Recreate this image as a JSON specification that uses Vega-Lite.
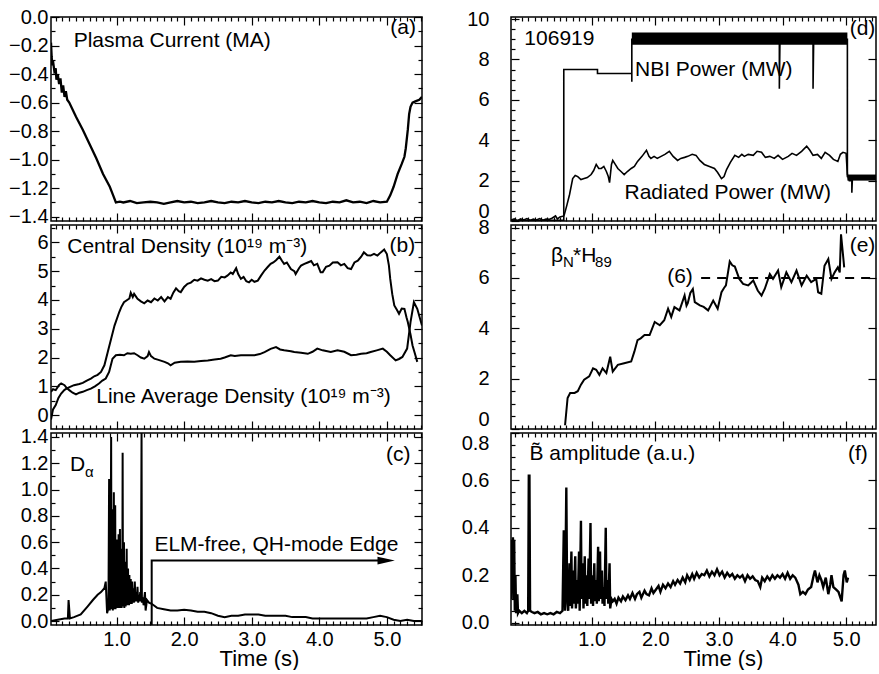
{
"$schema":"https://vega.github.io/schema/vega-lite/v6.json",
"padding":{"left":7,"top":6,"right":0,"bottom":0},
"background":"white",
"config":{
 "font":"Liberation Sans",
 "view":{"stroke":"black","strokeWidth":1.5},
 "axis":{"grid":false,"domain":false,"ticks":true,"tickColor":"black","tickWidth":1.2,"labelColor":"black","labelFont":"Liberation Sans","labelFontSize":20,"labelFlush":false,"labelOverlap":false,"titleFont":"Liberation Sans","titleFontSize":22,"titleFontWeight":"normal","titleColor":"black"},
 "line":{"color":"black","strokeWidth":2},
 "area":{"color":"black"},
 "text":{"font":"Liberation Sans","color":"black","fontSize":21}
},
"datasets":{
"ip":[{"t":0.03,"v":-0.18},{"t":0.04,"v":-0.28},{"t":0.05,"v":-0.34},{"t":0.06,"v":-0.31},{"t":0.08,"v":-0.38},{"t":0.1,"v":-0.36},{"t":0.11,"v":-0.44},{"t":0.13,"v":-0.4},{"t":0.15,"v":-0.47},{"t":0.17,"v":-0.43},{"t":0.19,"v":-0.53},{"t":0.21,"v":-0.48},{"t":0.23,"v":-0.56},{"t":0.25,"v":-0.52},{"t":0.27,"v":-0.58},{"t":0.3,"v":-0.6},{"t":0.4,"v":-0.7},{"t":0.5,"v":-0.79},{"t":0.6,"v":-0.89},{"t":0.7,"v":-0.99},{"t":0.8,"v":-1.1},{"t":0.9,"v":-1.19},{"t":0.95,"v":-1.25},{"t":0.99,"v":-1.3},{"t":1.05,"v":-1.295},{"t":1.1,"v":-1.3},{"t":1.2,"v":-1.29},{"t":1.3,"v":-1.305},{"t":1.4,"v":-1.3},{"t":1.5,"v":-1.295},{"t":1.6,"v":-1.3},{"t":1.7,"v":-1.31},{"t":1.8,"v":-1.3},{"t":1.9,"v":-1.29},{"t":2.0,"v":-1.3},{"t":2.1,"v":-1.295},{"t":2.2,"v":-1.305},{"t":2.3,"v":-1.3},{"t":2.4,"v":-1.29},{"t":2.5,"v":-1.3},{"t":2.6,"v":-1.305},{"t":2.7,"v":-1.295},{"t":2.8,"v":-1.3},{"t":2.9,"v":-1.29},{"t":3.0,"v":-1.3},{"t":3.1,"v":-1.305},{"t":3.2,"v":-1.295},{"t":3.3,"v":-1.3},{"t":3.4,"v":-1.29},{"t":3.5,"v":-1.3},{"t":3.6,"v":-1.305},{"t":3.7,"v":-1.295},{"t":3.8,"v":-1.3},{"t":3.9,"v":-1.29},{"t":4.0,"v":-1.3},{"t":4.1,"v":-1.305},{"t":4.2,"v":-1.295},{"t":4.3,"v":-1.3},{"t":4.4,"v":-1.285},{"t":4.5,"v":-1.3},{"t":4.6,"v":-1.295},{"t":4.7,"v":-1.305},{"t":4.8,"v":-1.29},{"t":4.9,"v":-1.3},{"t":5.0,"v":-1.295},{"t":5.05,"v":-1.25},{"t":5.1,"v":-1.19},{"t":5.16,"v":-1.1},{"t":5.22,"v":-1.03},{"t":5.26,"v":-0.98},{"t":5.28,"v":-0.92},{"t":5.31,"v":-0.79},{"t":5.33,"v":-0.68},{"t":5.35,"v":-0.63},{"t":5.38,"v":-0.6},{"t":5.43,"v":-0.59},{"t":5.48,"v":-0.58},{"t":5.52,"v":-0.56}],
"dens":[{"s":"c","t":0.03,"v":-0.15},{"s":"c","t":0.06,"v":0.2},{"s":"c","t":0.1,"v":0.35},{"s":"c","t":0.14,"v":0.6},{"s":"c","t":0.18,"v":0.75},{"s":"c","t":0.23,"v":0.88},{"s":"c","t":0.28,"v":0.95},{"s":"c","t":0.37,"v":1.04},{"s":"c","t":0.45,"v":1.08},{"s":"c","t":0.5,"v":1.12},{"s":"c","t":0.56,"v":1.2},{"s":"c","t":0.62,"v":1.27},{"s":"c","t":0.67,"v":1.35},{"s":"c","t":0.72,"v":1.4},{"s":"c","t":0.77,"v":1.5},{"s":"c","t":0.82,"v":1.73},{"s":"c","t":0.87,"v":2.19},{"s":"c","t":0.92,"v":2.65},{"s":"c","t":0.97,"v":3.11},{"s":"c","t":1.04,"v":3.58},{"s":"c","t":1.07,"v":3.75},{"s":"c","t":1.11,"v":3.92},{"s":"c","t":1.19,"v":4.05},{"s":"c","t":1.21,"v":4.25},{"s":"c","t":1.24,"v":4.1},{"s":"c","t":1.26,"v":4.21},{"s":"c","t":1.31,"v":4.04},{"s":"c","t":1.36,"v":3.95},{"s":"c","t":1.41,"v":3.88},{"s":"c","t":1.46,"v":3.98},{"s":"c","t":1.51,"v":3.92},{"s":"c","t":1.56,"v":4.05},{"s":"c","t":1.61,"v":3.98},{"s":"c","t":1.66,"v":4.1},{"s":"c","t":1.71,"v":3.95},{"s":"c","t":1.76,"v":4.1},{"s":"c","t":1.8,"v":4.04},{"s":"c","t":1.84,"v":4.25},{"s":"c","t":1.88,"v":4.4},{"s":"c","t":1.92,"v":4.3},{"s":"c","t":1.95,"v":4.27},{"s":"c","t":2.0,"v":4.45},{"s":"c","t":2.05,"v":4.56},{"s":"c","t":2.1,"v":4.6},{"s":"c","t":2.15,"v":4.7},{"s":"c","t":2.2,"v":4.67},{"s":"c","t":2.25,"v":4.75},{"s":"c","t":2.3,"v":4.7},{"s":"c","t":2.35,"v":4.67},{"s":"c","t":2.4,"v":4.72},{"s":"c","t":2.45,"v":4.65},{"s":"c","t":2.5,"v":4.67},{"s":"c","t":2.55,"v":4.8},{"s":"c","t":2.6,"v":4.78},{"s":"c","t":2.64,"v":4.84},{"s":"c","t":2.69,"v":4.95},{"s":"c","t":2.72,"v":4.9},{"s":"c","t":2.77,"v":5.1},{"s":"c","t":2.8,"v":4.9},{"s":"c","t":2.84,"v":4.73},{"s":"c","t":2.88,"v":4.8},{"s":"c","t":2.92,"v":4.65},{"s":"c","t":2.96,"v":4.61},{"s":"c","t":3.0,"v":4.7},{"s":"c","t":3.04,"v":4.63},{"s":"c","t":3.09,"v":4.67},{"s":"c","t":3.14,"v":4.85},{"s":"c","t":3.19,"v":5.02},{"s":"c","t":3.24,"v":5.15},{"s":"c","t":3.28,"v":5.25},{"s":"c","t":3.32,"v":5.3},{"s":"c","t":3.36,"v":5.38},{"s":"c","t":3.41,"v":5.5},{"s":"c","t":3.45,"v":5.35},{"s":"c","t":3.48,"v":5.25},{"s":"c","t":3.52,"v":5.3},{"s":"c","t":3.58,"v":5.07},{"s":"c","t":3.63,"v":5.0},{"s":"c","t":3.65,"v":4.9},{"s":"c","t":3.7,"v":5.1},{"s":"c","t":3.73,"v":5.19},{"s":"c","t":3.78,"v":5.25},{"s":"c","t":3.83,"v":5.3},{"s":"c","t":3.88,"v":5.35},{"s":"c","t":3.92,"v":5.2},{"s":"c","t":3.97,"v":5.25},{"s":"c","t":4.02,"v":4.96},{"s":"c","t":4.05,"v":4.96},{"s":"c","t":4.1,"v":5.15},{"s":"c","t":4.15,"v":5.19},{"s":"c","t":4.2,"v":5.3},{"s":"c","t":4.27,"v":5.31},{"s":"c","t":4.32,"v":5.2},{"s":"c","t":4.37,"v":5.25},{"s":"c","t":4.42,"v":5.1},{"s":"c","t":4.47,"v":5.07},{"s":"c","t":4.52,"v":5.3},{"s":"c","t":4.57,"v":5.36},{"s":"c","t":4.62,"v":5.5},{"s":"c","t":4.66,"v":5.65},{"s":"c","t":4.71,"v":5.55},{"s":"c","t":4.76,"v":5.54},{"s":"c","t":4.81,"v":5.6},{"s":"c","t":4.86,"v":5.54},{"s":"c","t":4.91,"v":5.65},{"s":"c","t":4.96,"v":5.75},{"s":"c","t":5.0,"v":5.59},{"s":"c","t":5.03,"v":5.2},{"s":"c","t":5.05,"v":4.73},{"s":"c","t":5.08,"v":4.2},{"s":"c","t":5.11,"v":3.81},{"s":"c","t":5.15,"v":3.65},{"s":"c","t":5.18,"v":3.52},{"s":"c","t":5.22,"v":3.7},{"s":"c","t":5.26,"v":3.69},{"s":"c","t":5.29,"v":3.4},{"s":"c","t":5.31,"v":3.23},{"s":"c","t":5.35,"v":2.8},{"s":"c","t":5.38,"v":2.42},{"s":"c","t":5.42,"v":2.1},{"s":"c","t":5.45,"v":1.85},
{"s":"l","t":0.03,"v":0.81},{"s":"l","t":0.06,"v":0.9},{"s":"l","t":0.1,"v":0.87},{"s":"l","t":0.15,"v":1.05},{"s":"l","t":0.18,"v":1.1},{"s":"l","t":0.23,"v":1.04},{"s":"l","t":0.26,"v":0.95},{"s":"l","t":0.3,"v":0.87},{"s":"l","t":0.35,"v":0.78},{"s":"l","t":0.4,"v":0.72},{"s":"l","t":0.45,"v":0.78},{"s":"l","t":0.5,"v":0.81},{"s":"l","t":0.56,"v":0.87},{"s":"l","t":0.62,"v":0.92},{"s":"l","t":0.68,"v":1.0},{"s":"l","t":0.74,"v":1.1},{"s":"l","t":0.79,"v":1.2},{"s":"l","t":0.84,"v":1.27},{"s":"l","t":0.89,"v":1.5},{"s":"l","t":0.94,"v":1.96},{"s":"l","t":0.99,"v":2.08},{"s":"l","t":1.05,"v":2.1},{"s":"l","t":1.11,"v":2.08},{"s":"l","t":1.16,"v":2.15},{"s":"l","t":1.21,"v":2.13},{"s":"l","t":1.26,"v":2.15},{"s":"l","t":1.31,"v":2.08},{"s":"l","t":1.36,"v":2.0},{"s":"l","t":1.41,"v":1.96},{"s":"l","t":1.46,"v":2.05},{"s":"l","t":1.48,"v":2.19},{"s":"l","t":1.51,"v":2.05},{"s":"l","t":1.56,"v":1.96},{"s":"l","t":1.62,"v":1.92},{"s":"l","t":1.71,"v":1.85},{"s":"l","t":1.76,"v":1.8},{"s":"l","t":1.8,"v":1.73},{"s":"l","t":1.86,"v":1.82},{"s":"l","t":1.95,"v":1.85},{"s":"l","t":2.05,"v":1.86},{"s":"l","t":2.15,"v":1.85},{"s":"l","t":2.25,"v":1.88},{"s":"l","t":2.35,"v":1.9},{"s":"l","t":2.45,"v":1.93},{"s":"l","t":2.54,"v":1.96},{"s":"l","t":2.6,"v":2.0},{"s":"l","t":2.69,"v":2.08},{"s":"l","t":2.75,"v":2.05},{"s":"l","t":2.84,"v":2.08},{"s":"l","t":2.95,"v":2.08},{"s":"l","t":3.04,"v":2.08},{"s":"l","t":3.12,"v":2.12},{"s":"l","t":3.19,"v":2.19},{"s":"l","t":3.28,"v":2.3},{"s":"l","t":3.36,"v":2.36},{"s":"l","t":3.42,"v":2.28},{"s":"l","t":3.48,"v":2.25},{"s":"l","t":3.58,"v":2.22},{"s":"l","t":3.63,"v":2.19},{"s":"l","t":3.73,"v":2.17},{"s":"l","t":3.83,"v":2.13},{"s":"l","t":3.9,"v":2.2},{"s":"l","t":3.97,"v":2.31},{"s":"l","t":4.05,"v":2.25},{"s":"l","t":4.17,"v":2.19},{"s":"l","t":4.27,"v":2.25},{"s":"l","t":4.37,"v":2.2},{"s":"l","t":4.47,"v":2.08},{"s":"l","t":4.55,"v":2.1},{"s":"l","t":4.62,"v":2.13},{"s":"l","t":4.7,"v":2.15},{"s":"l","t":4.76,"v":2.19},{"s":"l","t":4.85,"v":2.25},{"s":"l","t":4.94,"v":2.31},{"s":"l","t":5.0,"v":2.2},{"s":"l","t":5.05,"v":2.08},{"s":"l","t":5.13,"v":1.9},{"s":"l","t":5.18,"v":1.95},{"s":"l","t":5.23,"v":2.02},{"s":"l","t":5.3,"v":2.31},{"s":"l","t":5.35,"v":3.23},{"s":"l","t":5.4,"v":3.92},{"s":"l","t":5.45,"v":3.69},{"s":"l","t":5.52,"v":3.11}],
"dal":[{"t":0.03,"v":0.0},{"t":0.13,"v":0.01},{"t":0.23,"v":0.02},{"t":0.28,"v":0.02},{"t":0.29,"v":0.16},{"t":0.31,"v":0.02},{"t":0.37,"v":0.03},{"t":0.47,"v":0.05},{"t":0.57,"v":0.11},{"t":0.65,"v":0.16},{"t":0.72,"v":0.2},{"t":0.77,"v":0.22},{"t":0.82,"v":0.25},{"t":0.84,"v":0.3},{"t":0.86,"v":0.06},{"t":0.88,"v":0.1},{"t":0.89,"v":1.08},{"t":0.9,"v":0.08},{"t":0.905,"v":0.9},{"t":0.91,"v":0.1},{"t":0.92,"v":1.4},{"t":0.925,"v":0.09},{"t":0.93,"v":0.6},{"t":0.935,"v":0.1},{"t":0.94,"v":0.85},{"t":0.945,"v":0.08},{"t":0.95,"v":0.7},{"t":0.955,"v":0.1},{"t":0.96,"v":0.98},{"t":0.965,"v":0.09},{"t":0.97,"v":0.5},{"t":0.975,"v":0.1},{"t":0.98,"v":0.88},{"t":0.985,"v":0.09},{"t":0.99,"v":0.45},{"t":0.995,"v":0.11},{"t":1.0,"v":0.62},{"t":1.005,"v":0.1},{"t":1.01,"v":0.5},{"t":1.015,"v":0.12},{"t":1.02,"v":0.4},{"t":1.025,"v":0.1},{"t":1.03,"v":0.66},{"t":1.035,"v":0.11},{"t":1.04,"v":0.55},{"t":1.045,"v":0.1},{"t":1.05,"v":0.7},{"t":1.055,"v":0.12},{"t":1.06,"v":0.4},{"t":1.065,"v":0.11},{"t":1.07,"v":0.55},{"t":1.075,"v":0.1},{"t":1.08,"v":0.35},{"t":1.085,"v":0.12},{"t":1.09,"v":1.28},{"t":1.095,"v":0.11},{"t":1.1,"v":0.5},{"t":1.105,"v":0.12},{"t":1.11,"v":0.6},{"t":1.115,"v":0.1},{"t":1.12,"v":0.4},{"t":1.125,"v":0.12},{"t":1.13,"v":0.45},{"t":1.135,"v":0.11},{"t":1.14,"v":0.3},{"t":1.145,"v":0.12},{"t":1.15,"v":0.55},{"t":1.155,"v":0.13},{"t":1.16,"v":0.35},{"t":1.165,"v":0.12},{"t":1.17,"v":0.4},{"t":1.175,"v":0.13},{"t":1.18,"v":0.3},{"t":1.185,"v":0.12},{"t":1.19,"v":0.35},{"t":1.195,"v":0.13},{"t":1.2,"v":0.28},{"t":1.205,"v":0.13},{"t":1.21,"v":0.32},{"t":1.215,"v":0.14},{"t":1.22,"v":0.27},{"t":1.225,"v":0.13},{"t":1.23,"v":0.3},{"t":1.24,"v":0.14},{"t":1.25,"v":0.25},{"t":1.26,"v":0.14},{"t":1.27,"v":0.3},{"t":1.28,"v":0.15},{"t":1.29,"v":0.22},{"t":1.3,"v":0.15},{"t":1.31,"v":0.26},{"t":1.32,"v":0.14},{"t":1.33,"v":0.2},{"t":1.34,"v":0.15},{"t":1.35,"v":0.22},{"t":1.36,"v":0.15},{"t":1.37,"v":1.43},{"t":1.375,"v":0.14},{"t":1.39,"v":0.18},{"t":1.4,"v":0.12},{"t":1.42,"v":0.22},{"t":1.43,"v":0.08},{"t":1.45,"v":0.16},{"t":1.48,"v":0.14},{"t":1.52,"v":0.13},{"t":1.55,"v":0.12},{"t":1.6,"v":0.1},{"t":1.7,"v":0.09},{"t":1.8,"v":0.08},{"t":1.9,"v":0.08},{"t":2.0,"v":0.085},{"t":2.1,"v":0.08},{"t":2.2,"v":0.07},{"t":2.3,"v":0.07},{"t":2.4,"v":0.06},{"t":2.5,"v":0.04},{"t":2.6,"v":0.03},{"t":2.7,"v":0.04},{"t":2.8,"v":0.04},{"t":2.9,"v":0.05},{"t":3.0,"v":0.05},{"t":3.1,"v":0.05},{"t":3.2,"v":0.04},{"t":3.3,"v":0.04},{"t":3.4,"v":0.04},{"t":3.5,"v":0.04},{"t":3.6,"v":0.03},{"t":3.7,"v":0.03},{"t":3.8,"v":0.03},{"t":3.9,"v":0.02},{"t":4.0,"v":0.02},{"t":4.1,"v":0.02},{"t":4.2,"v":0.02},{"t":4.3,"v":0.02},{"t":4.4,"v":0.02},{"t":4.5,"v":0.02},{"t":4.6,"v":0.02},{"t":4.7,"v":0.02},{"t":4.8,"v":0.03},{"t":4.9,"v":0.04},{"t":5.0,"v":0.03},{"t":5.1,"v":0.01},{"t":5.2,"v":0.0},{"t":5.3,"v":0.01},{"t":5.4,"v":0.0},{"t":5.52,"v":0.0}],
"arrow":[{"o":1,"t":1.52,"v":-0.03},{"o":2,"t":1.52,"v":0.46},{"o":3,"t":4.95,"v":0.46}],
"arrowhead":[{"t":4.99,"v":0.46}],
"nbi":[{"o":1,"t":-0.27,"v":0.03},{"o":2,"t":0.56,"v":0.03},{"o":3,"t":0.56,"v":7.5},{"o":4,"t":1.09,"v":7.5},{"o":5,"t":1.09,"v":7.3},{"o":6,"t":1.63,"v":7.3},{"o":7,"t":1.63,"v":6.9},{"o":8,"t":1.63,"v":9.0},{"o":9,"t":3.95,"v":9.0},{"o":10,"t":3.95,"v":6.55},{"o":11,"t":3.96,"v":9.0},{"o":12,"t":4.48,"v":9.0},{"o":13,"t":4.48,"v":6.55},{"o":14,"t":4.49,"v":9.0},{"o":15,"t":5.02,"v":9.0},{"o":16,"t":5.02,"v":2.2},{"o":17,"t":5.09,"v":2.2},{"o":18,"t":5.09,"v":1.4},{"o":19,"t":5.1,"v":2.2},{"o":20,"t":5.47,"v":2.2}],
"nbiband":[{"g":1,"t":1.63,"lo":8.72,"hi":9.33},{"g":1,"t":5.02,"lo":8.72,"hi":9.33},{"g":2,"t":5.02,"lo":2.0,"hi":2.3},{"g":2,"t":5.47,"lo":2.0,"hi":2.3}],
"prad":[{"t":-0.27,"v":0.05},{"t":-0.22,"v":0.1},{"t":-0.17,"v":0.0},{"t":-0.12,"v":0.1},{"t":-0.07,"v":0.05},{"t":-0.02,"v":0.12},{"t":0.03,"v":0.03},{"t":0.08,"v":0.1},{"t":0.13,"v":0.05},{"t":0.18,"v":0.12},{"t":0.23,"v":0.04},{"t":0.28,"v":0.1},{"t":0.33,"v":0.08},{"t":0.38,"v":0.15},{"t":0.43,"v":0.25},{"t":0.46,"v":0.1},{"t":0.5,"v":0.2},{"t":0.56,"v":0.25},{"t":0.57,"v":0.33},{"t":0.61,"v":0.8},{"t":0.65,"v":1.3},{"t":0.7,"v":2.1},{"t":0.74,"v":2.25},{"t":0.78,"v":2.2},{"t":0.83,"v":2.05},{"t":0.88,"v":2.1},{"t":0.93,"v":2.15},{"t":0.99,"v":2.3},{"t":1.03,"v":2.5},{"t":1.07,"v":2.8},{"t":1.11,"v":2.6},{"t":1.15,"v":2.6},{"t":1.19,"v":2.7},{"t":1.23,"v":2.45},{"t":1.26,"v":2.2},{"t":1.28,"v":1.9},{"t":1.31,"v":2.8},{"t":1.33,"v":3.0},{"t":1.37,"v":2.8},{"t":1.41,"v":2.6},{"t":1.46,"v":2.45},{"t":1.51,"v":2.3},{"t":1.56,"v":2.45},{"t":1.62,"v":2.6},{"t":1.67,"v":2.7},{"t":1.72,"v":2.95},{"t":1.79,"v":3.2},{"t":1.86,"v":3.5},{"t":1.9,"v":3.2},{"t":1.93,"v":3.1},{"t":1.98,"v":3.2},{"t":2.03,"v":3.1},{"t":2.09,"v":3.2},{"t":2.15,"v":3.3},{"t":2.22,"v":3.45},{"t":2.28,"v":3.2},{"t":2.35,"v":3.0},{"t":2.4,"v":3.1},{"t":2.46,"v":3.15},{"t":2.51,"v":3.2},{"t":2.58,"v":3.3},{"t":2.64,"v":3.25},{"t":2.7,"v":3.0},{"t":2.77,"v":2.8},{"t":2.85,"v":2.7},{"t":2.93,"v":2.6},{"t":2.98,"v":2.4},{"t":3.04,"v":2.1},{"t":3.08,"v":2.2},{"t":3.12,"v":2.55},{"t":3.18,"v":2.9},{"t":3.25,"v":3.25},{"t":3.31,"v":3.15},{"t":3.36,"v":3.3},{"t":3.4,"v":3.2},{"t":3.46,"v":3.3},{"t":3.54,"v":3.25},{"t":3.6,"v":3.45},{"t":3.67,"v":3.4},{"t":3.73,"v":3.15},{"t":3.8,"v":3.2},{"t":3.87,"v":3.1},{"t":3.93,"v":3.25},{"t":4.0,"v":3.05},{"t":4.09,"v":3.2},{"t":4.15,"v":3.35},{"t":4.22,"v":3.25},{"t":4.3,"v":3.45},{"t":4.38,"v":3.7},{"t":4.43,"v":3.5},{"t":4.48,"v":3.25},{"t":4.55,"v":3.3},{"t":4.61,"v":3.1},{"t":4.67,"v":3.4},{"t":4.74,"v":3.25},{"t":4.8,"v":3.05},{"t":4.87,"v":2.95},{"t":4.91,"v":3.3},{"t":4.95,"v":3.4},{"t":5.0,"v":3.35},{"t":5.02,"v":2.3},{"t":5.05,"v":2.0},{"t":5.08,"v":2.0}],
"beta":[{"t":0.58,"v":0.15},{"t":0.62,"v":1.23},{"t":0.66,"v":1.43},{"t":0.73,"v":1.43},{"t":0.78,"v":1.5},{"t":0.83,"v":1.76},{"t":0.88,"v":1.96},{"t":0.96,"v":2.09},{"t":1.02,"v":2.41},{"t":1.07,"v":2.35},{"t":1.12,"v":2.15},{"t":1.17,"v":2.41},{"t":1.23,"v":2.22},{"t":1.29,"v":2.87},{"t":1.33,"v":2.28},{"t":1.41,"v":2.55},{"t":1.51,"v":2.61},{"t":1.62,"v":2.68},{"t":1.67,"v":3.07},{"t":1.72,"v":3.53},{"t":1.77,"v":3.6},{"t":1.83,"v":3.73},{"t":1.91,"v":3.73},{"t":1.99,"v":4.25},{"t":2.07,"v":4.12},{"t":2.14,"v":4.32},{"t":2.2,"v":4.78},{"t":2.25,"v":4.45},{"t":2.3,"v":4.84},{"t":2.38,"v":4.71},{"t":2.46,"v":5.3},{"t":2.49,"v":4.9},{"t":2.51,"v":5.0},{"t":2.55,"v":5.4},{"t":2.59,"v":5.56},{"t":2.62,"v":5.04},{"t":2.7,"v":4.91},{"t":2.76,"v":4.85},{"t":2.83,"v":4.71},{"t":2.91,"v":5.1},{"t":2.98,"v":4.78},{"t":3.04,"v":5.43},{"t":3.08,"v":5.6},{"t":3.11,"v":5.7},{"t":3.17,"v":6.65},{"t":3.21,"v":6.5},{"t":3.25,"v":6.45},{"t":3.32,"v":5.96},{"t":3.38,"v":5.76},{"t":3.46,"v":5.7},{"t":3.5,"v":5.8},{"t":3.54,"v":5.9},{"t":3.61,"v":5.5},{"t":3.67,"v":5.3},{"t":3.72,"v":5.56},{"t":3.8,"v":6.15},{"t":3.85,"v":5.96},{"t":3.93,"v":6.29},{"t":3.98,"v":5.63},{"t":4.06,"v":6.22},{"t":4.14,"v":5.83},{"t":4.22,"v":6.29},{"t":4.3,"v":5.7},{"t":4.38,"v":6.09},{"t":4.45,"v":5.83},{"t":4.53,"v":5.96},{"t":4.56,"v":5.43},{"t":4.61,"v":5.37},{"t":4.66,"v":6.48},{"t":4.72,"v":6.75},{"t":4.77,"v":5.96},{"t":4.82,"v":6.22},{"t":4.87,"v":6.42},{"t":4.9,"v":6.22},{"t":4.92,"v":7.73},{"t":4.97,"v":6.42}],
"dash":[{"t":2.72,"v":6},{"t":5.47,"v":6}],
"bdot":[{"t":-0.27,"v":0.1},{"t":-0.26,"v":0.35},{"t":-0.25,"v":0.2},{"t":-0.24,"v":0.36},{"t":-0.23,"v":0.1},{"t":-0.22,"v":0.35},{"t":-0.21,"v":0.05},{"t":-0.2,"v":0.2},{"t":-0.19,"v":0.04},{"t":-0.17,"v":0.12},{"t":-0.16,"v":0.04},{"t":-0.14,"v":0.05},{"t":-0.1,"v":0.04},{"t":-0.06,"v":0.05},{"t":-0.02,"v":0.04},{"t":0.0,"v":0.05},{"t":0.01,"v":0.62},{"t":0.02,"v":0.62},{"t":0.03,"v":0.05},{"t":0.06,"v":0.045},{"t":0.1,"v":0.04},{"t":0.15,"v":0.045},{"t":0.2,"v":0.035},{"t":0.25,"v":0.04},{"t":0.3,"v":0.035},{"t":0.35,"v":0.04},{"t":0.4,"v":0.035},{"t":0.45,"v":0.045},{"t":0.5,"v":0.04},{"t":0.54,"v":0.05},{"t":0.56,"v":0.39},{"t":0.58,"v":0.05},{"t":0.6,"v":0.57},{"t":0.61,"v":0.2},{"t":0.62,"v":0.08},{"t":0.63,"v":0.05},{"t":0.65,"v":0.25},{"t":0.66,"v":0.07},{"t":0.68,"v":0.3},{"t":0.69,"v":0.06},{"t":0.71,"v":0.22},{"t":0.72,"v":0.08},{"t":0.74,"v":0.28},{"t":0.75,"v":0.06},{"t":0.77,"v":0.18},{"t":0.78,"v":0.08},{"t":0.8,"v":0.3},{"t":0.81,"v":0.05},{"t":0.83,"v":0.43},{"t":0.84,"v":0.1},{"t":0.86,"v":0.25},{"t":0.87,"v":0.06},{"t":0.89,"v":0.28},{"t":0.9,"v":0.08},{"t":0.92,"v":0.2},{"t":0.93,"v":0.07},{"t":0.95,"v":0.27},{"t":0.96,"v":0.1},{"t":0.98,"v":0.42},{"t":0.99,"v":0.08},{"t":1.01,"v":0.2},{"t":1.02,"v":0.07},{"t":1.04,"v":0.25},{"t":1.05,"v":0.09},{"t":1.07,"v":0.18},{"t":1.08,"v":0.08},{"t":1.1,"v":0.32},{"t":1.11,"v":0.09},{"t":1.13,"v":0.3},{"t":1.14,"v":0.1},{"t":1.16,"v":0.22},{"t":1.17,"v":0.08},{"t":1.19,"v":0.15},{"t":1.2,"v":0.07},{"t":1.22,"v":0.4},{"t":1.23,"v":0.1},{"t":1.25,"v":0.18},{"t":1.26,"v":0.08},{"t":1.28,"v":0.25},{"t":1.29,"v":0.06},{"t":1.31,"v":0.1},{"t":1.33,"v":0.09},{"t":1.36,"v":0.1},{"t":1.39,"v":0.08},{"t":1.42,"v":0.105},{"t":1.46,"v":0.09},{"t":1.49,"v":0.11},{"t":1.53,"v":0.095},{"t":1.57,"v":0.115},{"t":1.6,"v":0.1},{"t":1.64,"v":0.125},{"t":1.68,"v":0.1},{"t":1.71,"v":0.12},{"t":1.75,"v":0.13},{"t":1.78,"v":0.105},{"t":1.83,"v":0.135},{"t":1.86,"v":0.12},{"t":1.9,"v":0.115},{"t":1.94,"v":0.145},{"t":1.97,"v":0.125},{"t":2.01,"v":0.14},{"t":2.05,"v":0.155},{"t":2.08,"v":0.13},{"t":2.12,"v":0.16},{"t":2.16,"v":0.145},{"t":2.2,"v":0.165},{"t":2.24,"v":0.15},{"t":2.28,"v":0.175},{"t":2.31,"v":0.16},{"t":2.35,"v":0.18},{"t":2.39,"v":0.165},{"t":2.43,"v":0.19},{"t":2.47,"v":0.17},{"t":2.5,"v":0.2},{"t":2.54,"v":0.18},{"t":2.58,"v":0.205},{"t":2.61,"v":0.185},{"t":2.65,"v":0.21},{"t":2.69,"v":0.19},{"t":2.73,"v":0.205},{"t":2.77,"v":0.2},{"t":2.81,"v":0.22},{"t":2.85,"v":0.195},{"t":2.89,"v":0.215},{"t":2.93,"v":0.2},{"t":2.97,"v":0.225},{"t":3.01,"v":0.2},{"t":3.05,"v":0.215},{"t":3.09,"v":0.19},{"t":3.13,"v":0.21},{"t":3.17,"v":0.195},{"t":3.21,"v":0.205},{"t":3.25,"v":0.185},{"t":3.29,"v":0.2},{"t":3.33,"v":0.19},{"t":3.37,"v":0.2},{"t":3.41,"v":0.175},{"t":3.45,"v":0.2},{"t":3.49,"v":0.185},{"t":3.53,"v":0.195},{"t":3.57,"v":0.18},{"t":3.61,"v":0.175},{"t":3.65,"v":0.15},{"t":3.68,"v":0.19},{"t":3.72,"v":0.175},{"t":3.76,"v":0.195},{"t":3.8,"v":0.18},{"t":3.84,"v":0.2},{"t":3.88,"v":0.185},{"t":3.92,"v":0.2},{"t":3.96,"v":0.19},{"t":4.0,"v":0.205},{"t":4.04,"v":0.185},{"t":4.08,"v":0.21},{"t":4.12,"v":0.185},{"t":4.16,"v":0.2},{"t":4.2,"v":0.19},{"t":4.25,"v":0.16},{"t":4.28,"v":0.12},{"t":4.32,"v":0.13},{"t":4.36,"v":0.12},{"t":4.4,"v":0.14},{"t":4.45,"v":0.15},{"t":4.49,"v":0.2},{"t":4.51,"v":0.22},{"t":4.55,"v":0.17},{"t":4.58,"v":0.2},{"t":4.61,"v":0.18},{"t":4.64,"v":0.15},{"t":4.68,"v":0.19},{"t":4.72,"v":0.12},{"t":4.75,"v":0.16},{"t":4.77,"v":0.2},{"t":4.8,"v":0.15},{"t":4.84,"v":0.14},{"t":4.88,"v":0.13},{"t":4.93,"v":0.09},{"t":4.96,"v":0.2},{"t":4.98,"v":0.22},{"t":5.01,"v":0.17},{"t":5.03,"v":0.19}],
"la":[{"t":0.365,"v":-0.17,"txt":"Plasma Current (MA)"}],
"lar":[{"t":5.43,"v":-0.075,"txt":"(a)"}],
"lb":[{"t":0.27,"v":5.82,"txt":"Central Density (10¹⁹ m⁻³)"},{"t":0.7,"v":0.63,"txt":"Line Average Density (10¹⁹ m⁻³)"}],
"lbr":[{"t":5.42,"v":5.86,"txt":"(b)"}],
"lc":[{"t":0.31,"v":1.19,"txt":"D"},{"t":1.56,"v":0.58,"txt":"ELM-free, QH-mode Edge"}],
"lcsub":[{"t":0.31,"v":1.19,"txt":"α"}],
"lcr":[{"t":5.35,"v":1.26,"txt":"(c)"}],
"ld":[{"t":-0.06,"v":9.0,"txt":"106919"},{"t":1.68,"v":7.5,"txt":"NBI Power (MW)"},{"t":1.515,"v":1.39,"txt":"Radiated Power (MW)"}],
"ldr":[{"t":5.46,"v":9.5,"txt":"(d)"}],
"le":[{"t":0.36,"v":6.88,"txt":"β"}],
"leN":[{"t":0.36,"v":6.88,"txt":"N"}],
"leH":[{"t":0.36,"v":6.88,"txt":"*H"}],
"le89":[{"t":0.36,"v":6.88,"txt":"89"}],
"ler":[{"t":5.46,"v":7.27,"txt":"(e)"},{"t":2.59,"v":6.02,"txt":"(6)"}],
"lf":[{"t":0.02,"v":0.71,"txt":"B̃ amplitude (a.u.)"}],
"lfr":[{"t":5.34,"v":0.71,"txt":"(f)"}]
},
"spacing":36,
"hconcat":[
{"bounds":"flush","spacing":4,"vconcat":[
 {"width":371,"height":204,
  "layer":[
   {"data":{"name":"ip"},"mark":{"type":"line","strokeWidth":2.3,"clip":true},
    "encoding":{
     "x":{"field":"t","type":"quantitative","scale":{"domain":[0.03,5.52],"nice":false,"zero":false},"axis":{"orient":"bottom","values":[1,2,3,4,5],"tickSize":-8,"labels":false,"title":null}},
     "y":{"field":"v","type":"quantitative","scale":{"domain":[-1.43,0],"nice":false,"zero":false},"axis":{"orient":"left","values":[-1.4,-1.2,-1,-0.8,-0.6,-0.4,-0.2,0],"format":".1f","tickSize":-8,"labelPadding":11,"title":null}}}},
   {"data":{"name":"la"},"mark":{"type":"text","align":"left","baseline":"middle"},
    "encoding":{
     "x":{"field":"t","type":"quantitative","scale":{"domain":[0.03,5.52],"nice":false,"zero":false},"axis":{"orient":"top","values":[1,2,3,4,5],"tickSize":-8,"labels":false,"title":null}},
     "y":{"field":"v","type":"quantitative","scale":{"domain":[-1.43,0],"nice":false,"zero":false},"axis":{"orient":"right","values":[-1.4,-1.2,-1,-0.8,-0.6,-0.4,-0.2,0],"tickSize":-8,"labels":false,"title":null}},
     "text":{"field":"txt"}}},
   {"data":{"name":"la"},"mark":{"type":"point","opacity":0},
    "encoding":{
     "x":{"field":"t","type":"quantitative","scale":{"domain":[0.03,5.52],"nice":false,"zero":false},"axis":{"orient":"bottom","values":[0.1,0.2,0.3,0.4,0.5,0.6,0.7,0.8,0.9,1.1,1.2,1.3,1.4,1.5,1.6,1.7,1.8,1.9,2.1,2.2,2.3,2.4,2.5,2.6,2.7,2.8,2.9,3.1,3.2,3.3,3.4,3.5,3.6,3.7,3.8,3.9,4.1,4.2,4.3,4.4,4.5,4.6,4.7,4.8,4.9,5.1,5.2,5.3,5.4,5.5],"tickSize":-4,"labels":false,"title":null}},
     "y":{"field":"v","type":"quantitative","scale":{"domain":[-1.43,0],"nice":false,"zero":false},"axis":{"orient":"left","values":[-1.3,-1.1,-0.9,-0.7,-0.5,-0.3,-0.1],"tickSize":-4,"labels":false,"title":null}}}},
   {"data":{"name":"la"},"mark":{"type":"point","opacity":0},
    "encoding":{
     "x":{"field":"t","type":"quantitative","scale":{"domain":[0.03,5.52],"nice":false,"zero":false},"axis":{"orient":"top","values":[0.1,0.2,0.3,0.4,0.5,0.6,0.7,0.8,0.9,1.1,1.2,1.3,1.4,1.5,1.6,1.7,1.8,1.9,2.1,2.2,2.3,2.4,2.5,2.6,2.7,2.8,2.9,3.1,3.2,3.3,3.4,3.5,3.6,3.7,3.8,3.9,4.1,4.2,4.3,4.4,4.5,4.6,4.7,4.8,4.9,5.1,5.2,5.3,5.4,5.5],"tickSize":-4,"labels":false,"title":null}},
     "y":{"field":"v","type":"quantitative","scale":{"domain":[-1.43,0],"nice":false,"zero":false},"axis":{"orient":"right","values":[-1.3,-1.1,-0.9,-0.7,-0.5,-0.3,-0.1],"tickSize":-4,"labels":false,"title":null}}}},
   {"data":{"name":"lar"},"mark":{"type":"text","align":"right","baseline":"middle"},
    "encoding":{
     "x":{"field":"t","type":"quantitative","scale":{"domain":[0.03,5.52],"nice":false,"zero":false},"axis":null},
     "y":{"field":"v","type":"quantitative","scale":{"domain":[-1.43,0],"nice":false,"zero":false},"axis":null},
     "text":{"field":"txt"}}}
  ],
  "resolve":{"axis":{"x":"independent","y":"independent"}}},
 {"width":371,"height":204,
  "layer":[
   {"data":{"name":"dens"},"mark":{"type":"line","strokeWidth":2,"clip":true},
    "encoding":{
     "x":{"field":"t","type":"quantitative","scale":{"domain":[0.03,5.52],"nice":false,"zero":false},"axis":{"orient":"bottom","values":[1,2,3,4,5],"tickSize":-8,"labels":false,"title":null}},
     "y":{"field":"v","type":"quantitative","scale":{"domain":[-0.48,6.6],"nice":false,"zero":false},"axis":{"orient":"left","values":[0,1,2,3,4,5,6],"format":"d","tickSize":-8,"labelPadding":11,"title":null}},
     "detail":{"field":"s"}}},
   {"data":{"name":"lb"},"mark":{"type":"text","align":"left","baseline":"middle"},
    "encoding":{
     "x":{"field":"t","type":"quantitative","scale":{"domain":[0.03,5.52],"nice":false,"zero":false},"axis":{"orient":"top","values":[1,2,3,4,5],"tickSize":-8,"labels":false,"title":null}},
     "y":{"field":"v","type":"quantitative","scale":{"domain":[-0.48,6.6],"nice":false,"zero":false},"axis":{"orient":"right","values":[0,1,2,3,4,5,6],"tickSize":-8,"labels":false,"title":null}},
     "text":{"field":"txt"}}},
   {"data":{"name":"lb"},"mark":{"type":"point","opacity":0},
    "encoding":{
     "x":{"field":"t","type":"quantitative","scale":{"domain":[0.03,5.52],"nice":false,"zero":false},"axis":{"orient":"bottom","values":[0.1,0.2,0.3,0.4,0.5,0.6,0.7,0.8,0.9,1.1,1.2,1.3,1.4,1.5,1.6,1.7,1.8,1.9,2.1,2.2,2.3,2.4,2.5,2.6,2.7,2.8,2.9,3.1,3.2,3.3,3.4,3.5,3.6,3.7,3.8,3.9,4.1,4.2,4.3,4.4,4.5,4.6,4.7,4.8,4.9,5.1,5.2,5.3,5.4,5.5],"tickSize":-4,"labels":false,"title":null}},
     "y":{"field":"v","type":"quantitative","scale":{"domain":[-0.48,6.6],"nice":false,"zero":false},"axis":{"orient":"left","values":[0.5,1.5,2.5,3.5,4.5,5.5,6.5],"tickSize":-4,"labels":false,"title":null}}}},
   {"data":{"name":"lb"},"mark":{"type":"point","opacity":0},
    "encoding":{
     "x":{"field":"t","type":"quantitative","scale":{"domain":[0.03,5.52],"nice":false,"zero":false},"axis":{"orient":"top","values":[0.1,0.2,0.3,0.4,0.5,0.6,0.7,0.8,0.9,1.1,1.2,1.3,1.4,1.5,1.6,1.7,1.8,1.9,2.1,2.2,2.3,2.4,2.5,2.6,2.7,2.8,2.9,3.1,3.2,3.3,3.4,3.5,3.6,3.7,3.8,3.9,4.1,4.2,4.3,4.4,4.5,4.6,4.7,4.8,4.9,5.1,5.2,5.3,5.4,5.5],"tickSize":-4,"labels":false,"title":null}},
     "y":{"field":"v","type":"quantitative","scale":{"domain":[-0.48,6.6],"nice":false,"zero":false},"axis":{"orient":"right","values":[0.5,1.5,2.5,3.5,4.5,5.5,6.5],"tickSize":-4,"labels":false,"title":null}}}},
   {"data":{"name":"lbr"},"mark":{"type":"text","align":"right","baseline":"middle"},
    "encoding":{
     "x":{"field":"t","type":"quantitative","scale":{"domain":[0.03,5.52],"nice":false,"zero":false},"axis":null},
     "y":{"field":"v","type":"quantitative","scale":{"domain":[-0.48,6.6],"nice":false,"zero":false},"axis":null},
     "text":{"field":"txt"}}}
  ],
  "resolve":{"axis":{"x":"independent","y":"independent"}}},
 {"width":371,"height":192,
  "layer":[
   {"data":{"name":"dal"},"mark":{"type":"line","strokeWidth":2,"clip":true},
    "encoding":{
     "x":{"field":"t","type":"quantitative","scale":{"domain":[0.03,5.52],"nice":false,"zero":false},"axis":{"orient":"bottom","values":[1,2,3,4,5],"format":".1f","tickSize":-8,"labelPadding":12,"title":"Time (s)","titleX":208,"titleY":40,"titleBaseline":"alphabetic","titleAnchor":null}},
     "y":{"field":"v","type":"quantitative","scale":{"domain":[-0.03,1.43],"nice":false,"zero":false},"axis":{"orient":"left","values":[0,0.2,0.4,0.6,0.8,1,1.2,1.4],"format":".1f","tickSize":-8,"labelPadding":11,"title":null}}}},
   {"data":{"name":"lc"},"mark":{"type":"text","align":"left","baseline":"middle"},
    "encoding":{
     "x":{"field":"t","type":"quantitative","scale":{"domain":[0.03,5.52],"nice":false,"zero":false},"axis":{"orient":"top","values":[1,2,3,4,5],"tickSize":-8,"labels":false,"title":null}},
     "y":{"field":"v","type":"quantitative","scale":{"domain":[-0.03,1.43],"nice":false,"zero":false},"axis":{"orient":"right","values":[0,0.2,0.4,0.6,0.8,1,1.2,1.4],"tickSize":-8,"labels":false,"title":null}},
     "text":{"field":"txt"}}},
   {"data":{"name":"lc"},"mark":{"type":"point","opacity":0},
    "encoding":{
     "x":{"field":"t","type":"quantitative","scale":{"domain":[0.03,5.52],"nice":false,"zero":false},"axis":{"orient":"bottom","values":[0.1,0.2,0.3,0.4,0.5,0.6,0.7,0.8,0.9,1.1,1.2,1.3,1.4,1.5,1.6,1.7,1.8,1.9,2.1,2.2,2.3,2.4,2.5,2.6,2.7,2.8,2.9,3.1,3.2,3.3,3.4,3.5,3.6,3.7,3.8,3.9,4.1,4.2,4.3,4.4,4.5,4.6,4.7,4.8,4.9,5.1,5.2,5.3,5.4,5.5],"tickSize":-4,"labels":false,"title":null}},
     "y":{"field":"v","type":"quantitative","scale":{"domain":[-0.03,1.43],"nice":false,"zero":false},"axis":{"orient":"left","values":[0.1,0.3,0.5,0.7,0.9,1.1,1.3],"tickSize":-4,"labels":false,"title":null}}}},
   {"data":{"name":"lc"},"mark":{"type":"point","opacity":0},
    "encoding":{
     "x":{"field":"t","type":"quantitative","scale":{"domain":[0.03,5.52],"nice":false,"zero":false},"axis":{"orient":"top","values":[0.1,0.2,0.3,0.4,0.5,0.6,0.7,0.8,0.9,1.1,1.2,1.3,1.4,1.5,1.6,1.7,1.8,1.9,2.1,2.2,2.3,2.4,2.5,2.6,2.7,2.8,2.9,3.1,3.2,3.3,3.4,3.5,3.6,3.7,3.8,3.9,4.1,4.2,4.3,4.4,4.5,4.6,4.7,4.8,4.9,5.1,5.2,5.3,5.4,5.5],"tickSize":-4,"labels":false,"title":null}},
     "y":{"field":"v","type":"quantitative","scale":{"domain":[-0.03,1.43],"nice":false,"zero":false},"axis":{"orient":"right","values":[0.1,0.3,0.5,0.7,0.9,1.1,1.3],"tickSize":-4,"labels":false,"title":null}}}},
   {"data":{"name":"lcr"},"mark":{"type":"text","align":"right","baseline":"middle"},
    "encoding":{
     "x":{"field":"t","type":"quantitative","scale":{"domain":[0.03,5.52],"nice":false,"zero":false},"axis":null},
     "y":{"field":"v","type":"quantitative","scale":{"domain":[-0.03,1.43],"nice":false,"zero":false},"axis":null},
     "text":{"field":"txt"}}},
   {"data":{"name":"lcsub"},"mark":{"type":"text","align":"left","baseline":"middle","fontSize":15,"dx":15,"dy":7},
    "encoding":{
     "x":{"field":"t","type":"quantitative","scale":{"domain":[0.03,5.52],"nice":false,"zero":false},"axis":null},
     "y":{"field":"v","type":"quantitative","scale":{"domain":[-0.03,1.43],"nice":false,"zero":false},"axis":null},
     "text":{"field":"txt"}}},
   {"data":{"name":"arrow"},"mark":{"type":"line","strokeWidth":2,"clip":true},
    "encoding":{
     "x":{"field":"t","type":"quantitative","scale":{"domain":[0.03,5.52],"nice":false,"zero":false},"axis":null},
     "y":{"field":"v","type":"quantitative","scale":{"domain":[-0.03,1.43],"nice":false,"zero":false},"axis":null},
     "order":{"field":"o"}}},
   {"data":{"name":"arrowhead"},"mark":{"type":"point","shape":"M-1,-0.45L1,0L-1,0.45Z","filled":true,"size":300,"opacity":1,"color":"black"},
    "encoding":{
     "x":{"field":"t","type":"quantitative","scale":{"domain":[0.03,5.52],"nice":false,"zero":false},"axis":null},
     "y":{"field":"v","type":"quantitative","scale":{"domain":[-0.03,1.43],"nice":false,"zero":false},"axis":null}}}
  ],
  "resolve":{"axis":{"x":"independent","y":"independent"}}}
]},
{"bounds":"flush","spacing":4,"vconcat":[
 {"width":365,"height":204,
  "layer":[
   {"data":{"name":"nbi"},"mark":{"type":"line","strokeWidth":1.6,"clip":true},
    "encoding":{
     "x":{"field":"t","type":"quantitative","scale":{"domain":[-0.27,5.47],"nice":false,"zero":false},"axis":{"orient":"bottom","values":[1,2,3,4,5],"tickSize":-8,"labels":false,"title":null}},
     "y":{"field":"v","type":"quantitative","scale":{"domain":[0,10.1],"nice":false,"zero":false},"axis":{"orient":"left","values":[0,2,4,6,8,10],"format":"d","tickSize":-8,"labelPadding":30,"labelFlush":true,"title":null}},
     "order":{"field":"o"}}},
   {"data":{"name":"ld"},"mark":{"type":"text","align":"left","baseline":"middle"},
    "encoding":{
     "x":{"field":"t","type":"quantitative","scale":{"domain":[-0.27,5.47],"nice":false,"zero":false},"axis":{"orient":"top","values":[1,2,3,4,5],"tickSize":-8,"labels":false,"title":null}},
     "y":{"field":"v","type":"quantitative","scale":{"domain":[0,10.1],"nice":false,"zero":false},"axis":{"orient":"right","values":[2,4,6,8],"tickSize":-8,"labels":false,"title":null}},
     "text":{"field":"txt"}}},
   {"data":{"name":"ld"},"mark":{"type":"point","opacity":0},
    "encoding":{
     "x":{"field":"t","type":"quantitative","scale":{"domain":[-0.27,5.47],"nice":false,"zero":false},"axis":{"orient":"bottom","values":[-0.2,-0.1,0,0.1,0.2,0.3,0.4,0.5,0.6,0.7,0.8,0.9,1.1,1.2,1.3,1.4,1.5,1.6,1.7,1.8,1.9,2.1,2.2,2.3,2.4,2.5,2.6,2.7,2.8,2.9,3.1,3.2,3.3,3.4,3.5,3.6,3.7,3.8,3.9,4.1,4.2,4.3,4.4,4.5,4.6,4.7,4.8,4.9,5.1,5.2,5.3,5.4],"tickSize":-4,"labels":false,"title":null}},
     "y":{"field":"v","type":"quantitative","scale":{"domain":[0,10.1],"nice":false,"zero":false},"axis":{"orient":"left","values":[0.5,1,1.5,2.5,3,3.5,4.5,5,5.5,6.5,7,7.5,8.5,9,9.5],"tickSize":-4,"labels":false,"title":null}}}},
   {"data":{"name":"ld"},"mark":{"type":"point","opacity":0},
    "encoding":{
     "x":{"field":"t","type":"quantitative","scale":{"domain":[-0.27,5.47],"nice":false,"zero":false},"axis":{"orient":"top","values":[-0.2,-0.1,0,0.1,0.2,0.3,0.4,0.5,0.6,0.7,0.8,0.9,1.1,1.2,1.3,1.4,1.5,1.6,1.7,1.8,1.9,2.1,2.2,2.3,2.4,2.5,2.6,2.7,2.8,2.9,3.1,3.2,3.3,3.4,3.5,3.6,3.7,3.8,3.9,4.1,4.2,4.3,4.4,4.5,4.6,4.7,4.8,4.9,5.1,5.2,5.3,5.4],"tickSize":-4,"labels":false,"title":null}},
     "y":{"field":"v","type":"quantitative","scale":{"domain":[0,10.1],"nice":false,"zero":false},"axis":null}}},
   {"data":{"name":"nbiband"},"mark":{"type":"area","clip":true},
    "encoding":{
     "x":{"field":"t","type":"quantitative","scale":{"domain":[-0.27,5.47],"nice":false,"zero":false},"axis":null},
     "y":{"field":"hi","type":"quantitative","scale":{"domain":[0,10.1],"nice":false,"zero":false},"axis":null},
     "y2":{"field":"lo"},
     "detail":{"field":"g"}}},
   {"data":{"name":"prad"},"mark":{"type":"line","strokeWidth":1.6,"clip":true},
    "encoding":{
     "x":{"field":"t","type":"quantitative","scale":{"domain":[-0.27,5.47],"nice":false,"zero":false},"axis":null},
     "y":{"field":"v","type":"quantitative","scale":{"domain":[0,10.1],"nice":false,"zero":false},"axis":null}}},
   {"data":{"name":"ldr"},"mark":{"type":"text","align":"right","baseline":"middle"},
    "encoding":{
     "x":{"field":"t","type":"quantitative","scale":{"domain":[-0.27,5.47],"nice":false,"zero":false},"axis":null},
     "y":{"field":"v","type":"quantitative","scale":{"domain":[0,10.1],"nice":false,"zero":false},"axis":null},
     "text":{"field":"txt"}}}
  ],
  "resolve":{"axis":{"x":"independent","y":"independent"}}},
 {"width":365,"height":204,
  "layer":[
   {"data":{"name":"beta"},"mark":{"type":"line","strokeWidth":2,"clip":true},
    "encoding":{
     "x":{"field":"t","type":"quantitative","scale":{"domain":[-0.27,5.47],"nice":false,"zero":false},"axis":{"orient":"bottom","values":[1,2,3,4,5],"tickSize":-8,"labels":false,"title":null}},
     "y":{"field":"v","type":"quantitative","scale":{"domain":[0,8.1],"nice":false,"zero":false},"axis":{"orient":"left","values":[0,2,4,6,8],"format":"d","tickSize":-8,"labelPadding":30,"labelFlush":true,"title":null}}}},
   {"data":{"name":"le"},"mark":{"type":"text","align":"left","baseline":"middle"},
    "encoding":{
     "x":{"field":"t","type":"quantitative","scale":{"domain":[-0.27,5.47],"nice":false,"zero":false},"axis":{"orient":"top","values":[1,2,3,4,5],"tickSize":-8,"labels":false,"title":null}},
     "y":{"field":"v","type":"quantitative","scale":{"domain":[0,8.1],"nice":false,"zero":false},"axis":{"orient":"right","values":[2,4,6],"tickSize":-8,"labels":false,"title":null}},
     "text":{"field":"txt"}}},
   {"data":{"name":"le"},"mark":{"type":"point","opacity":0},
    "encoding":{
     "x":{"field":"t","type":"quantitative","scale":{"domain":[-0.27,5.47],"nice":false,"zero":false},"axis":{"orient":"bottom","values":[-0.2,-0.1,0,0.1,0.2,0.3,0.4,0.5,0.6,0.7,0.8,0.9,1.1,1.2,1.3,1.4,1.5,1.6,1.7,1.8,1.9,2.1,2.2,2.3,2.4,2.5,2.6,2.7,2.8,2.9,3.1,3.2,3.3,3.4,3.5,3.6,3.7,3.8,3.9,4.1,4.2,4.3,4.4,4.5,4.6,4.7,4.8,4.9,5.1,5.2,5.3,5.4],"tickSize":-4,"labels":false,"title":null}},
     "y":{"field":"v","type":"quantitative","scale":{"domain":[0,8.1],"nice":false,"zero":false},"axis":{"orient":"left","values":[0.5,1,1.5,2.5,3,3.5,4.5,5,5.5,6.5,7,7.5],"tickSize":-4,"labels":false,"title":null}}}},
   {"data":{"name":"le"},"mark":{"type":"point","opacity":0},
    "encoding":{
     "x":{"field":"t","type":"quantitative","scale":{"domain":[-0.27,5.47],"nice":false,"zero":false},"axis":{"orient":"top","values":[-0.2,-0.1,0,0.1,0.2,0.3,0.4,0.5,0.6,0.7,0.8,0.9,1.1,1.2,1.3,1.4,1.5,1.6,1.7,1.8,1.9,2.1,2.2,2.3,2.4,2.5,2.6,2.7,2.8,2.9,3.1,3.2,3.3,3.4,3.5,3.6,3.7,3.8,3.9,4.1,4.2,4.3,4.4,4.5,4.6,4.7,4.8,4.9,5.1,5.2,5.3,5.4],"tickSize":-4,"labels":false,"title":null}},
     "y":{"field":"v","type":"quantitative","scale":{"domain":[0,8.1],"nice":false,"zero":false},"axis":null}}},
   {"data":{"name":"dash"},"mark":{"type":"line","strokeWidth":2,"strokeDash":[9,7]},
    "encoding":{
     "x":{"field":"t","type":"quantitative","scale":{"domain":[-0.27,5.47],"nice":false,"zero":false},"axis":null},
     "y":{"field":"v","type":"quantitative","scale":{"domain":[0,8.1],"nice":false,"zero":false},"axis":null}}},
   {"data":{"name":"leN"},"mark":{"type":"text","align":"left","baseline":"middle","fontSize":15,"dx":12,"dy":6},
    "encoding":{
     "x":{"field":"t","type":"quantitative","scale":{"domain":[-0.27,5.47],"nice":false,"zero":false},"axis":null},
     "y":{"field":"v","type":"quantitative","scale":{"domain":[0,8.1],"nice":false,"zero":false},"axis":null},
     "text":{"field":"txt"}}},
   {"data":{"name":"leH"},"mark":{"type":"text","align":"left","baseline":"middle","dx":22},
    "encoding":{
     "x":{"field":"t","type":"quantitative","scale":{"domain":[-0.27,5.47],"nice":false,"zero":false},"axis":null},
     "y":{"field":"v","type":"quantitative","scale":{"domain":[0,8.1],"nice":false,"zero":false},"axis":null},
     "text":{"field":"txt"}}},
   {"data":{"name":"le89"},"mark":{"type":"text","align":"left","baseline":"middle","fontSize":15,"dx":44,"dy":6},
    "encoding":{
     "x":{"field":"t","type":"quantitative","scale":{"domain":[-0.27,5.47],"nice":false,"zero":false},"axis":null},
     "y":{"field":"v","type":"quantitative","scale":{"domain":[0,8.1],"nice":false,"zero":false},"axis":null},
     "text":{"field":"txt"}}},
   {"data":{"name":"ler"},"mark":{"type":"text","align":"right","baseline":"middle"},
    "encoding":{
     "x":{"field":"t","type":"quantitative","scale":{"domain":[-0.27,5.47],"nice":false,"zero":false},"axis":null},
     "y":{"field":"v","type":"quantitative","scale":{"domain":[0,8.1],"nice":false,"zero":false},"axis":null},
     "text":{"field":"txt"}}}
  ],
  "resolve":{"axis":{"x":"independent","y":"independent"}}},
 {"width":365,"height":192,
  "layer":[
   {"data":{"name":"bdot"},"mark":{"type":"line","strokeWidth":2.4,"clip":true},
    "encoding":{
     "x":{"field":"t","type":"quantitative","scale":{"domain":[-0.27,5.47],"nice":false,"zero":false},"axis":{"orient":"bottom","values":[1,2,3,4,5],"format":".1f","tickSize":-8,"labelPadding":12,"title":"Time (s)","titleX":212,"titleY":40,"titleBaseline":"alphabetic","titleAnchor":null}},
     "y":{"field":"v","type":"quantitative","scale":{"domain":[-0.01,0.8],"nice":false,"zero":false},"axis":{"orient":"left","values":[0,0.2,0.4,0.6,0.8],"format":".1f","tickSize":-8,"labelPadding":30,"labelFlush":true,"title":null}}}},
   {"data":{"name":"lf"},"mark":{"type":"text","align":"left","baseline":"middle"},
    "encoding":{
     "x":{"field":"t","type":"quantitative","scale":{"domain":[-0.27,5.47],"nice":false,"zero":false},"axis":{"orient":"top","values":[1,2,3,4,5],"tickSize":-8,"labels":false,"title":null}},
     "y":{"field":"v","type":"quantitative","scale":{"domain":[-0.01,0.8],"nice":false,"zero":false},"axis":{"orient":"right","values":[0.2,0.4,0.6],"tickSize":-8,"labels":false,"title":null}},
     "text":{"field":"txt"}}},
   {"data":{"name":"lf"},"mark":{"type":"point","opacity":0},
    "encoding":{
     "x":{"field":"t","type":"quantitative","scale":{"domain":[-0.27,5.47],"nice":false,"zero":false},"axis":{"orient":"bottom","values":[-0.2,-0.1,0,0.1,0.2,0.3,0.4,0.5,0.6,0.7,0.8,0.9,1.1,1.2,1.3,1.4,1.5,1.6,1.7,1.8,1.9,2.1,2.2,2.3,2.4,2.5,2.6,2.7,2.8,2.9,3.1,3.2,3.3,3.4,3.5,3.6,3.7,3.8,3.9,4.1,4.2,4.3,4.4,4.5,4.6,4.7,4.8,4.9,5.1,5.2,5.3,5.4],"tickSize":-4,"labels":false,"title":null}},
     "y":{"field":"v","type":"quantitative","scale":{"domain":[-0.01,0.8],"nice":false,"zero":false},"axis":{"orient":"left","values":[0.05,0.1,0.15,0.25,0.3,0.35,0.45,0.5,0.55,0.65,0.7,0.75],"tickSize":-4,"labels":false,"title":null}}}},
   {"data":{"name":"lf"},"mark":{"type":"point","opacity":0},
    "encoding":{
     "x":{"field":"t","type":"quantitative","scale":{"domain":[-0.27,5.47],"nice":false,"zero":false},"axis":{"orient":"top","values":[-0.2,-0.1,0,0.1,0.2,0.3,0.4,0.5,0.6,0.7,0.8,0.9,1.1,1.2,1.3,1.4,1.5,1.6,1.7,1.8,1.9,2.1,2.2,2.3,2.4,2.5,2.6,2.7,2.8,2.9,3.1,3.2,3.3,3.4,3.5,3.6,3.7,3.8,3.9,4.1,4.2,4.3,4.4,4.5,4.6,4.7,4.8,4.9,5.1,5.2,5.3,5.4],"tickSize":-4,"labels":false,"title":null}},
     "y":{"field":"v","type":"quantitative","scale":{"domain":[-0.01,0.8],"nice":false,"zero":false},"axis":null}}},
   {"data":{"name":"lfr"},"mark":{"type":"text","align":"right","baseline":"middle"},
    "encoding":{
     "x":{"field":"t","type":"quantitative","scale":{"domain":[-0.27,5.47],"nice":false,"zero":false},"axis":null},
     "y":{"field":"v","type":"quantitative","scale":{"domain":[-0.01,0.8],"nice":false,"zero":false},"axis":null},
     "text":{"field":"txt"}}}
  ],
  "resolve":{"axis":{"x":"independent","y":"independent"}}}
]}
]
}
